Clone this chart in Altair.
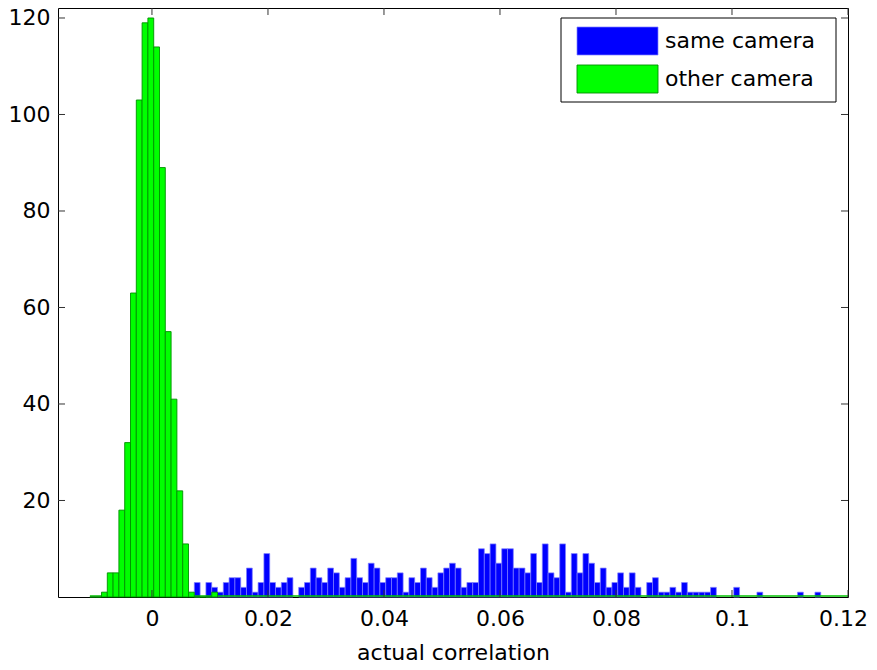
import altair as alt
import pandas as pd

# ---------------- data ----------------
BIN_WIDTH = 0.001
GREEN_FIRST_CENTER = -0.0102
BLUE_FIRST_CENTER = 0.0078

green_counts = [0, 0, 1, 5, 5, 18, 32, 63, 103, 119, 120, 114, 89, 55, 41, 22,
                11, 1, 0, 0, 0, 1]

blue_counts = [3, 0, 3, 2, 1, 3, 4, 4, 2, 6, 1, 3, 9, 3, 2, 3, 4, 0, 2, 3,
               6, 4, 3, 6, 5, 2, 4, 8, 4, 3, 7, 6, 3, 4, 4, 5, 1, 4, 3, 6,
               4, 2, 5, 6, 7, 6, 2, 3, 3, 10, 9, 11, 7, 10, 10, 6, 6, 5, 9, 3,
               11, 5, 4, 11, 1, 9, 5, 9, 7, 3, 6, 2, 3, 5, 2, 5, 2, 0, 3, 4,
               1, 1, 2, 1, 3, 1, 1, 1, 1, 2, 0, 0, 0, 2, 0, 0, 0, 1, 0, 0,
               0, 0, 0, 0, 1, 0, 0, 1]

x_ticks = [0, 0.02, 0.04, 0.06, 0.08, 0.1, 0.12]
y_ticks = [20, 40, 60, 80, 100, 120]
legend_labels = ["same camera", "other camera"]
x_title = "actual correlation"

X_DOMAIN = [-0.0162, 0.12]
Y_DOMAIN = [0, 122.07]

# ---------------- styling ----------------
W, H = 790, 589
FONT = "DejaVu Sans"
FS = 22
BLUE, BLUE_EDGE = "#0000ff", "#8080ff"
GREEN, GREEN_EDGE = "#00ff00", "#009000"
TICK = 7


def hist_frame(first_center, counts):
    rows = []
    for i, c in enumerate(counts):
        center = first_center + i * BIN_WIDTH
        rows.append({"lo": center - BIN_WIDTH / 2, "hi": center + BIN_WIDTH / 2, "count": c})
    return pd.DataFrame(rows)


green_df = hist_frame(GREEN_FIRST_CENTER, green_counts)
blue_df = hist_frame(BLUE_FIRST_CENTER, blue_counts)
blue_df = blue_df[blue_df["count"] > 0]

xs = alt.Scale(domain=X_DOMAIN, nice=False, zero=False)
ys = alt.Scale(domain=Y_DOMAIN, nice=False, zero=False)

x_axis = alt.Axis(values=x_ticks, format=".3~g", tickSize=0, domain=False, grid=False,
                  labelFlush=False, labelOverlap=False, labelPadding=11,
                  labelOffset=alt.condition("datum.value >= 0.115", alt.value(-5), alt.value(0)),
                  title=x_title, titleBaseline="alphabetic", titleY=62)
y_axis = alt.Axis(values=y_ticks, format="d", tickSize=0, domain=False, grid=False,
                  labelPadding=8, title=None)


def X(field):
    return alt.X(field, type="quantitative", scale=xs, axis=x_axis)


def Y(field):
    return alt.Y(field, type="quantitative", scale=ys, axis=y_axis)


blue = alt.Chart(blue_df).mark_rect(fill=BLUE, stroke=BLUE_EDGE, strokeWidth=0.7).encode(
    x=X("lo"), x2="hi", y=Y("count"), y2=alt.datum(0),
)

baseline_df = pd.DataFrame({"lo": [green_df["lo"].min()], "hi": [X_DOMAIN[1]], "count": [0]})
green_base = alt.Chart(baseline_df).mark_rule(color="#00c000", strokeWidth=1.5, yOffset=-1).encode(
    x=X("lo"), x2="hi", y=Y("count"),
)

green = alt.Chart(green_df).mark_rect(fill=GREEN, stroke=GREEN_EDGE, strokeWidth=0.9).encode(
    x=X("lo"), x2="hi", y=Y("count"), y2=alt.datum(0),
)

# inward tick marks (MATLAB style)
xt = pd.DataFrame({"lo": x_ticks})
yt = pd.DataFrame({"count": y_ticks})
tick_style = dict(color="#333333", strokeWidth=1)
xt_bot = alt.Chart(xt).mark_rule(**tick_style).encode(
    x=X("lo"), y=alt.value(H), y2=alt.value(H - TICK))
xt_top = alt.Chart(xt).mark_rule(**tick_style).encode(
    x=X("lo"), y=alt.value(0), y2=alt.value(TICK))
yt_left = alt.Chart(yt).mark_rule(**tick_style).encode(
    y=Y("count"), x=alt.value(0), x2=alt.value(TICK))
yt_right = alt.Chart(yt).mark_rule(**tick_style).encode(
    y=Y("count"), x=alt.value(W - TICK), x2=alt.value(W))

# legend drawn in pixel space (top-right box)
one = pd.DataFrame({"k": [0]})
leg_box = alt.Chart(one).mark_rect(fill="white", stroke="black", strokeWidth=1).encode(
    x=alt.value(503), x2=alt.value(778), y=alt.value(10), y2=alt.value(94))
leg_blue = alt.Chart(one).mark_rect(fill=BLUE, stroke=BLUE_EDGE, strokeWidth=0.7).encode(
    x=alt.value(519), x2=alt.value(600), y=alt.value(19), y2=alt.value(47))
leg_green = alt.Chart(one).mark_rect(fill=GREEN, stroke=GREEN_EDGE, strokeWidth=0.9).encode(
    x=alt.value(519), x2=alt.value(600), y=alt.value(57), y2=alt.value(85))
leg_t1 = alt.Chart(one).mark_text(text=legend_labels[0], font=FONT, fontSize=FS, align="left",
                                  baseline="middle", color="black").encode(
    x=alt.value(607), y=alt.value(33))
leg_t2 = alt.Chart(one).mark_text(text=legend_labels[1], font=FONT, fontSize=FS, align="left",
                                  baseline="middle", color="black").encode(
    x=alt.value(607), y=alt.value(71))

chart = alt.layer(
    blue, green_base, green, xt_bot, xt_top, yt_left, yt_right,
    leg_box, leg_blue, leg_green, leg_t1, leg_t2,
).properties(
    width=W, height=H,
    autosize=alt.AutoSizeParams(type="none"),
    padding={"left": 50, "top": 0, "right": 21, "bottom": 64},
).configure_view(
    stroke="black", strokeWidth=1,
).configure_axis(
    labelFont=FONT, labelFontSize=FS, labelColor="black",
    titleFont=FONT, titleFontSize=FS, titleFontWeight="normal", titleColor="black",
)

chart.save("out.html", embed_options={"renderer": "svg", "actions": False})
